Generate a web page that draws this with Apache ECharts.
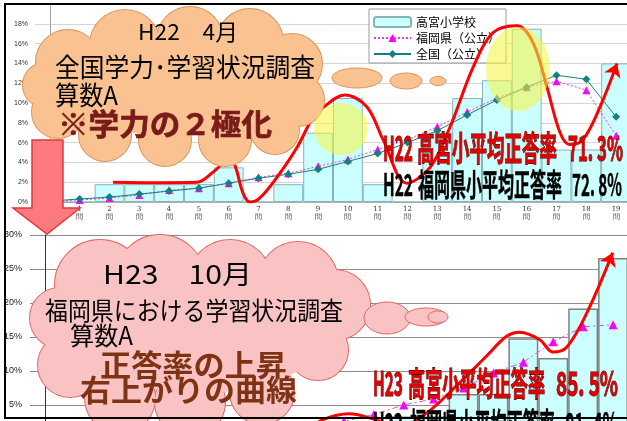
<!DOCTYPE html>
<html><head><meta charset="utf-8">
<script src="https://cdn.jsdelivr.net/npm/echarts@6/dist/echarts.min.js"></script>
<style>html,body{margin:0;padding:0;background:#fff}#c{width:627px;height:421px}</style>
</head><body><div id="c"></div>
<script>
// ---------- data ----------
const questionNos = ['0','1','2','3','4','5','6','7','8','9','10','11','12','13','14','15','16','17','18','19'];
const questionLabels = questionNos.map(n => n + '\n問');
const yTickLabels22 = ['0%','2%','4%','6%','8%','10%','12%','14%','16%','18%',''];
const yTickLabels23 = ['0%','5%','10%','15%','20%','25%','30%'];

// H22 (April) – share of pupils (%) by number of correct answers
const takamiya22 = [0,0,1.8,1.8,1.8,1.8,3.5,0,1.8,7.0,10.5,1.8,0,7.0,10.5,12.3,17.5,5.3,5.3,14.0];
const fukuoka22  = [0.1,0.2,0.4,0.7,1.2,1.4,1.9,2.5,2.9,3.6,4.3,5.3,6.3,7.6,9.1,10.5,11.6,12.2,11.3,6.7];
const national22 = [0.1,0.3,0.5,0.8,1.1,1.4,1.9,2.4,2.8,3.3,4.1,4.9,6.0,7.2,8.8,10.3,11.6,12.8,12.4,8.6];
// H23 (October)
const takamiya23 = [0,0,0,0,0,0,0,1.8,1.8,1.8,1.8,1.8,3.3,3.3,6.6,6.6,14.8,11.9,19.2,26.6];
const fukuoka23  = [0,0.1,0.1,0.2,0.3,0.5,0.8,1.1,1.5,2.0,2.6,3.6,5.0,5.9,7.5,9.7,11.3,14.3,16.5,16.8];
// hand-drawn trend curves: [question position, %]
const trend22 = [[2.12,2.0],[3.5,1.95],[4.94,2.0],[5.47,3.0],[6.04,4.3],[6.22,3.6],[6.48,0.9],[6.71,0.0],[7.04,0.4],[7.62,2.5],[8.29,5.5],[8.83,8.6],[9.06,9.3],[9.90,10.8],[10.64,9.6],[11.18,6.3],[11.98,1.9],[12.76,3.5],[13.43,7.6],[14.20,13.6],[14.87,17.1],[15.67,17.8],[16.21,16.1],[16.68,11.6],[17.12,7.0],[17.45,5.8],[17.89,6.3],[18.46,9.6],[19.03,14.0]];
const trend23 = [[8.9,1.5],[9.27,2.8],[10.17,3.7],[11.08,2.8],[11.85,1.6],[12.76,3.8],[13.76,7.8],[14.77,12.2],[15.44,15.1],[15.88,15.7],[16.55,14.6],[16.98,12.8],[17.45,13.5],[18.12,18.5],[18.99,27.4]];

// ---------- helpers ----------
const FAM = '"Noto Sans CJK JP", "Noto Sans CJK SC", sans-serif';
const mctx = document.createElement('canvas').getContext('2d');
function txt(str, x, yc, w, size, fill, stroke, lw, z, weight) {
  weight = weight || 'bold';
  mctx.font = weight + ' ' + size + 'px ' + FAM;
  const sx = w ? w / mctx.measureText(str).width : 1;
  return {type:'text', x:x, y:yc, scaleX:sx, scaleY:1, z:z||50,
    style:{text:str, fontSize:size, fontFamily:FAM, fontWeight:weight, fill:fill,
      stroke:stroke||null, lineWidth:lw||0, align:'left', verticalAlign:'middle'}};
}
function cloud(parts, fill, stroke, z) {
  const out = [];
  parts.forEach(p => { if (!p[4]) out.push({type:'ellipse', z:z, shape:{cx:p[0], cy:p[1], rx:p[2], ry:p[3]||p[2]}, style:{fill:fill, stroke:stroke, lineWidth:2}}); });
  parts.forEach(p => out.push({type:'ellipse', z:z+1, shape:{cx:p[0], cy:p[1], rx:p[2], ry:p[3]||p[2]}, style:{fill:fill}}));
  return out;
}
function bubble(cx, cy, rx, ry, fill, stroke, z) {
  return {type:'ellipse', z:z, shape:{cx:cx, cy:cy, rx:rx, ry:ry}, style:{fill:fill, stroke:stroke, lineWidth:1}};
}

// ---------- decorations ----------
const peach = '#FAC191', peachLine = '#D9955A';
const pink = '#F9C3C3', pinkLine = '#E06868';
let gfx = [];
gfx = gfx.concat(cloud([
  [68,62,32],[125,45,35],[190,40,33],[250,42,33],[292,64,30],[298,100,26],[275,130,24],
  [225,140,26],[165,140,26],[105,135,26],[58,112,26],[45,85,22],[175,92,112,44,1]
], peach, peachLine, 10));
gfx.push(bubble(357,78,25,10,peach,peachLine,12));
gfx.push(bubble(406,81,16,8,peach,peachLine,12));
gfx.push(bubble(438,81,8,4.5,peach,peachLine,12));

gfx = gfx.concat(cloud([
  [100,285,45],[160,280,45],[230,282,42],[298,282,40],[335,305,35],[318,350,30],
  [60,318,30],[70,365,32],[120,398,35],[190,402,35],[262,392,32],[200,335,125,58,1]
], pink, pinkLine, 10));
gfx.push(bubble(387,318,23,16,pink,pinkLine,12));
gfx.push(bubble(426,317,21,9,pink,pinkLine,12));
gfx.push(bubble(438,317,10,6,pink,pinkLine,12));

gfx.push({type:'polygon', z:15, shape:{points:[[32,140],[63,140],[63,208],[80,208],[47,234],[13,208],[32,208]]},
  style:{fill:'#FF7A7E', stroke:'#E03A3A', lineWidth:1.5}});

gfx.push({type:'ellipse', z:20, shape:{cx:341, cy:129, rx:27, ry:26}, style:{fill:'rgba(245,245,60,0.55)'}});
gfx.push({type:'ellipse', z:20, shape:{cx:518, cy:69, rx:32, ry:42}, style:{fill:'rgba(245,245,60,0.55)'}});

// cloud texts
gfx.push(txt('H22　4月', 138, 32, 100, 22, '#000', null, 0, 30, 'normal'));
gfx.push(txt('全国学力･学習状況調査', 55, 67, 260, 26, '#000', null, 0, 30, 'normal'));
gfx.push(txt('算数A', 55, 95, 63, 26, '#000', null, 0, 30, 'normal'));
gfx.push(txt('※学力の２極化', 58, 124, 214, 30, '#7A1A1A', '#5a1010', 0.6, 30, 'bold'));

gfx.push(txt('H23　10月', 103, 274, 149, 26, '#000', null, 0, 30, 'normal'));
gfx.push(txt('福岡県における学習状況調査', 45, 310, 298, 25, '#000', null, 0, 30, 'normal'));
gfx.push(txt('算数A', 70, 335, 63, 25, '#000', null, 0, 30, 'normal'));
gfx.push(txt('正答率の上昇', 100, 365, 187, 30, '#7E3315', null, 0, 30, 'bold'));
gfx.push(txt('右上がりの曲線', 80, 390, 217, 30, '#7E3315', null, 0, 30, 'bold'));

// statistic texts (condensed)
const red = '#E00000', redLine = '#3a0000';
gfx.push(txt('H22', 383, 148, 30, 34, red, redLine, 1, 35));
gfx.push(txt('高宮小平均正答率', 417, 148, 140, 34, red, redLine, 1, 35));
gfx.push(txt('71. 3%', 568, 148, 55, 34, red, redLine, 1, 35));
gfx.push(txt('H22', 383, 184, 30, 31, '#000', '#000', 0.5, 35));
gfx.push(txt('福岡県小平均正答率', 418, 184, 144, 31, '#000', '#000', 0.5, 35));
gfx.push(txt('72. 8%', 572, 184, 50, 31, '#000', '#000', 0.5, 35));

gfx.push(txt('H23', 373, 383, 30, 33, red, redLine, 1, 35));
gfx.push(txt('高宮小平均正答率', 408, 383, 137, 33, red, redLine, 1, 35));
gfx.push(txt('85. 5%', 556, 383, 62, 33, red, redLine, 1, 35));
gfx.push(txt('H23', 373, 424, 30, 33, '#000', '#000', 0.5, 35));
gfx.push(txt('福岡県小平均正答率', 410, 424, 145, 33, '#000', '#000', 0.5, 35));
gfx.push(txt('81. 4%', 565, 424, 53, 33, '#000', '#000', 0.5, 35));

gfx.push({type:'rect', z:40, shape:{x:5, y:4, width:640, height:414}, style:{fill:null, stroke:'#000', lineWidth:2}});

// ---------- chart ----------
const chart = echarts.init(document.getElementById('c'), null, {renderer:'canvas'});
function arrowEnd(len) { return (v, p) => p.dataIndex === len - 1 ? 'arrow' : 'none'; }

chart.setOption({
  animation:false,
  backgroundColor:'#fff',
  legend:{
    data:['高宮小学校','福岡県（公立）','全国（公立）'],
    orient:'vertical', left:369, top:9, padding:[6,6,2,4],
    backgroundColor:'#fff', borderColor:'#9a9a9a', borderWidth:1,
    itemWidth:37, itemHeight:10, itemGap:2,
    textStyle:{fontSize:12, lineHeight:14, color:'#000', fontFamily:FAM}
  },
  grid:[
    {left:35, top:4, width:596, height:198, containLabel:false, outerBoundsMode:'none'},
    {left:30, top:235, width:598, height:204, containLabel:false, outerBoundsMode:'none'}
  ],
  xAxis:[
    {type:'category', gridIndex:0, data:questionLabels, axisTick:{show:false},
     axisLine:{lineStyle:{color:'#b0b0b0'}},
     axisLabel:{interval:0, fontSize:7, lineHeight:8, margin:3, color:'#333', fontFamily:'DejaVu Serif'}},
    {type:'category', gridIndex:1, data:questionLabels, axisTick:{show:false}, axisLabel:{show:false},
     axisLine:{lineStyle:{color:'#666'}}},
    {type:'value', gridIndex:0, min:-0.5, max:19.5, show:false},
    {type:'value', gridIndex:1, min:-0.5, max:19.5, show:false}
  ],
  yAxis:[
    {type:'value', gridIndex:0, min:0, max:20, interval:2,
     axisLine:{show:true, lineStyle:{color:'#a0a0a0'}}, axisTick:{show:false},
     axisLabel:{fontSize:7, margin:7, color:'#333', formatter:v => yTickLabels22[Math.round(v/2)]},
     splitLine:{lineStyle:{color:'#d6d6d6', width:1}}},
    {type:'value', gridIndex:1, min:0, max:30, interval:5,
     axisLine:{show:true, lineStyle:{color:'#333'}}, axisTick:{show:false},
     axisLabel:{fontSize:9, margin:8, color:'#222', fontFamily:'"Liberation Sans Narrow", "Liberation Sans", sans-serif',
       formatter:v => yTickLabels23[Math.round(v/5)]},
     splitLine:{lineStyle:{color:'#8c8c8c', width:1}}}
  ],
  series:[
    {name:'高宮小学校', type:'bar', xAxisIndex:0, yAxisIndex:0, data:takamiya22, barCategoryGap:'0%', z:2,
     itemStyle:{color:'#CCFFFF', borderColor:'#86b4b8', borderWidth:1}},
    {name:'福岡県（公立）', type:'line', xAxisIndex:0, yAxisIndex:0, data:fukuoka22, z:3,
     symbol:'triangle', symbolSize:8, itemStyle:{color:'#FF00FF'},
     lineStyle:{color:'#E040E0', width:1, type:[2,2]}},
    {name:'全国（公立）', type:'line', xAxisIndex:0, yAxisIndex:0, data:national22, z:4,
     symbol:'diamond', symbolSize:8, itemStyle:{color:'#168080'},
     lineStyle:{color:'#168080', width:1}},
    {name:'H23高宮小学校', type:'bar', xAxisIndex:1, yAxisIndex:1, data:takamiya23, barCategoryGap:'0%', z:2,
     itemStyle:{color:'#CCFFFF', borderColor:'#808080', borderWidth:1.5}},
    {name:'H23福岡県', type:'line', xAxisIndex:1, yAxisIndex:1, data:fukuoka23, z:3,
     symbol:'triangle', symbolSize:9, itemStyle:{color:'#FF00FF'},
     lineStyle:{color:'#C060E0', width:1, type:[6,3,2,3]}},
    {name:'trend22', type:'line', xAxisIndex:2, yAxisIndex:0, data:trend22, smooth:0.35, z:5,
     symbol:arrowEnd(trend22.length), symbolSize:13, symbolRotate:-21, showSymbol:true,
     itemStyle:{color:'#FF0000'}, lineStyle:{color:'#FF0000', width:3}},
    {name:'trend23', type:'line', xAxisIndex:3, yAxisIndex:1, data:trend23, smooth:0.35, z:5,
     symbol:arrowEnd(trend23.length), symbolSize:13, symbolRotate:-23, showSymbol:true,
     itemStyle:{color:'#FF0000'}, lineStyle:{color:'#FF0000', width:3}}
  ],
  graphic:{elements:gfx}
});
</script></body></html>
